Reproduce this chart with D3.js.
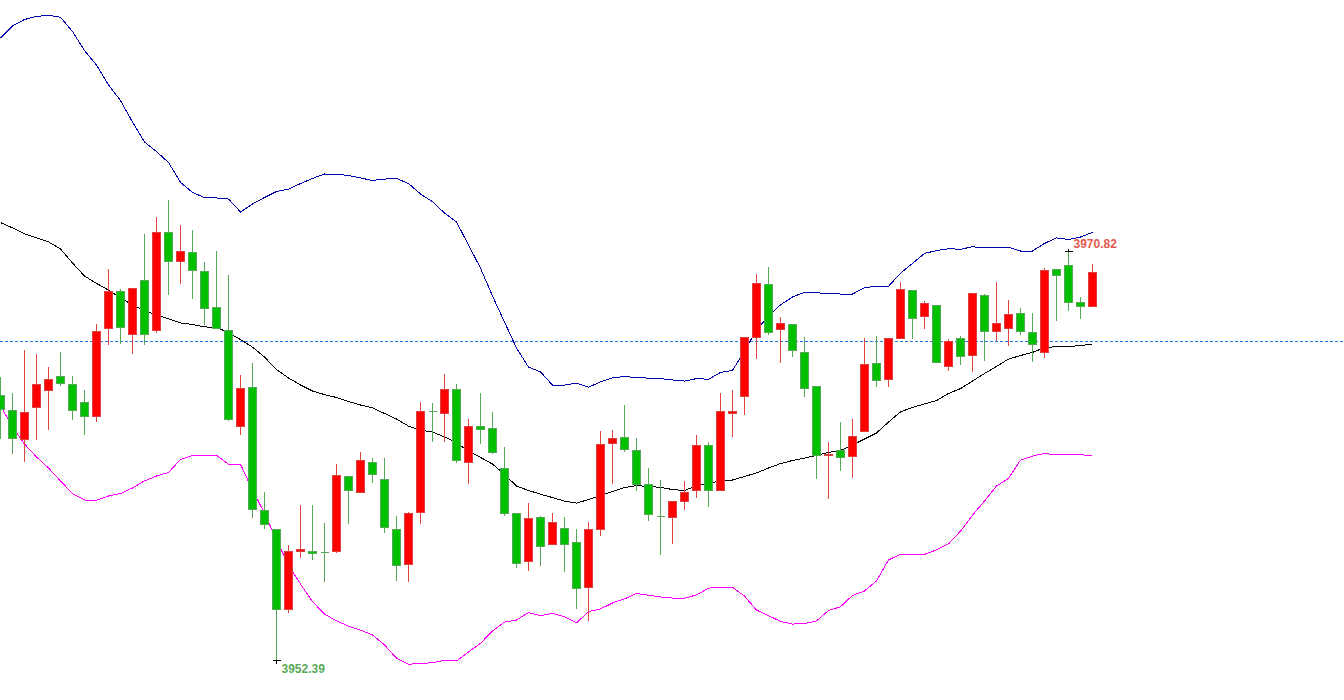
<!DOCTYPE html>
<html>
<head>
<meta charset="utf-8">
<script src="https://cdn.jsdelivr.net/npm/d3@7"></script>
<style>
  html, body { margin: 0; padding: 0; background: #fff; overflow: hidden; }
  #chart { width: 1344px; height: 700px; }
</style>
</head>
<body>
<div id="chart"></div>
<script>
// Candle data (oldest -> newest)
const open = [
  3964.33, 3963.66, 3962.35, 3963.79, 3964.56, 3965.19, 3964.83, 3964.02, 3963.39, 3967.35,
  3969.02, 3967.08, 3969.51, 3967.26, 3971.68, 3970.37, 3970.78, 3969.92, 3968.30, 3967.26,
  3962.93, 3964.69, 3959.15, 3958.29, 3954.69, 3957.30, 3957.30, 3957.26, 3957.30, 3960.68,
  3959.96, 3961.31, 3960.55, 3958.29, 3956.72, 3959.06, 3963.61, 3963.52, 3964.60, 3961.31,
  3962.93, 3962.84, 3961.04, 3959.01, 3956.85, 3958.83, 3957.62, 3958.34, 3957.71, 3955.68,
  3958.29, 3962.17, 3962.44, 3961.85, 3960.32, 3958.88, 3958.83, 3959.56, 3960.05, 3962.08,
  3960.05, 3963.52, 3964.29, 3966.94, 3969.33, 3967.31, 3967.53, 3966.27, 3964.74, 3961.63,
  3961.85, 3961.58, 3962.71, 3965.77, 3965.05, 3966.90, 3969.06, 3967.89, 3968.39, 3965.64,
  3966.90, 3966.13, 3968.84, 3967.21, 3967.35, 3968.03, 3967.17, 3966.27, 3970.01, 3970.19,
  3968.52, 3968.34
];
const high = [
  3965.19, 3964.47, 3966.40, 3966.22, 3965.64, 3966.31, 3965.23, 3964.60, 3967.58, 3970.05,
  3969.15, 3969.20, 3971.63, 3972.40, 3973.16, 3972.04, 3971.81, 3970.37, 3970.87, 3969.78,
  3965.28, 3965.82, 3960.01, 3958.34, 3957.62, 3959.42, 3959.42, 3958.61, 3961.27, 3960.73,
  3961.81, 3961.54, 3961.54, 3958.92, 3959.10, 3964.06, 3964.02, 3965.32, 3964.87, 3963.30,
  3964.47, 3963.61, 3962.03, 3959.06, 3959.51, 3958.92, 3959.06, 3958.88, 3958.34, 3958.65,
  3962.75, 3962.80, 3963.93, 3962.44, 3961.09, 3960.55, 3959.60, 3960.50, 3962.57, 3962.26,
  3964.47, 3964.60, 3966.99, 3969.83, 3970.14, 3967.89, 3967.58, 3966.99, 3964.78, 3962.26,
  3963.16, 3963.30, 3966.94, 3967.04, 3966.94, 3969.47, 3969.11, 3968.61, 3968.43, 3966.90,
  3967.04, 3968.97, 3968.93, 3969.47, 3968.66, 3968.30, 3968.07, 3970.10, 3970.05, 3970.82,
  3968.79, 3970.28
];
const low = [
  3962.39, 3961.72, 3961.36, 3962.35, 3962.80, 3964.78, 3963.25, 3962.57, 3963.16, 3966.63,
  3966.67, 3966.22, 3966.63, 3967.19, 3968.88, 3969.38, 3968.70, 3967.53, 3967.33, 3963.22,
  3962.57, 3958.83, 3958.34, 3952.39, 3954.55, 3957.03, 3956.94, 3955.95, 3957.27, 3958.56,
  3959.94, 3960.41, 3958.16, 3956.00, 3955.95, 3958.56, 3962.26, 3962.26, 3961.31, 3960.37,
  3962.17, 3961.74, 3958.92, 3956.58, 3956.45, 3956.67, 3957.60, 3956.40, 3954.73, 3954.19,
  3958.02, 3960.37, 3961.81, 3960.05, 3958.70, 3957.17, 3957.66, 3959.19, 3959.74, 3959.33,
  3960.03, 3962.48, 3963.47, 3966.00, 3967.08, 3965.82, 3966.09, 3964.29, 3960.59, 3959.69,
  3960.95, 3960.64, 3962.69, 3964.74, 3964.74, 3966.88, 3966.90, 3967.35, 3965.80, 3965.46,
  3965.73, 3965.41, 3965.91, 3966.81, 3966.58, 3967.08, 3965.86, 3966.04, 3967.71, 3968.16,
  3967.80, 3968.32
];
const close = [
  3963.70, 3962.39, 3963.57, 3964.83, 3965.05, 3964.87, 3963.66, 3963.39, 3967.21, 3969.02,
  3967.40, 3969.15, 3967.08, 3971.68, 3970.37, 3970.82, 3969.96, 3968.25, 3967.35, 3963.25,
  3964.65, 3959.19, 3958.52, 3954.69, 3957.30, 3957.39, 3957.21, 3957.26, 3960.73, 3960.05,
  3961.40, 3960.77, 3958.38, 3956.67, 3959.01, 3963.61, 3963.61, 3964.60, 3961.40, 3962.93,
  3962.80, 3961.76, 3959.01, 3956.76, 3958.79, 3957.53, 3958.61, 3957.62, 3955.63, 3958.29,
  3962.12, 3962.39, 3961.90, 3960.32, 3958.97, 3958.88, 3959.56, 3959.96, 3962.08, 3960.05,
  3963.61, 3963.61, 3966.94, 3969.38, 3967.17, 3967.58, 3966.36, 3964.65, 3961.63, 3961.67,
  3961.54, 3962.48, 3965.73, 3965.01, 3966.90, 3969.11, 3967.80, 3968.48, 3965.82, 3966.77,
  3966.09, 3968.93, 3967.21, 3967.58, 3967.98, 3967.21, 3966.63, 3969.96, 3969.74, 3968.52,
  3968.34, 3969.87
];

// Bollinger bands
const upper = [
  3980.42, 3980.96, 3981.25, 3981.39, 3981.44, 3981.35, 3980.71, 3979.85, 3979.20, 3978.30,
  3977.60, 3976.63, 3975.73, 3975.30, 3974.81, 3973.91, 3973.46, 3973.23, 3973.21, 3973.16,
  3972.58, 3972.94, 3973.23, 3973.50, 3973.61, 3973.86, 3974.09, 3974.29, 3974.28, 3974.22,
  3974.11, 3974.00, 3974.06, 3974.09, 3973.86, 3973.39, 3973.04, 3972.53, 3972.13, 3971.09,
  3970.05, 3968.79, 3967.62, 3966.45, 3965.59, 3965.37, 3964.78, 3964.78, 3964.86, 3964.68,
  3964.92, 3965.11, 3965.16, 3965.12, 3965.09, 3965.07, 3965.01, 3964.96, 3965.07, 3965.04,
  3965.35, 3965.44, 3966.31, 3967.26, 3967.89, 3968.39, 3968.75, 3968.96, 3968.93, 3968.92,
  3968.88, 3968.88, 3969.17, 3969.23, 3969.23, 3969.82, 3970.26, 3970.71, 3970.84, 3970.92,
  3970.90, 3971.01, 3970.96, 3970.97, 3970.99, 3970.82, 3970.82, 3971.16, 3971.41, 3971.34,
  3971.45, 3971.66
];
const middle = [
  3972.10, 3971.86, 3971.59, 3971.41, 3971.23, 3970.91, 3970.28, 3969.69, 3969.36, 3969.06,
  3968.70, 3968.39, 3968.12, 3967.94, 3967.76, 3967.58, 3967.51, 3967.40, 3967.38, 3967.14,
  3966.83, 3966.49, 3966.04, 3965.48, 3965.10, 3964.78, 3964.51, 3964.35, 3964.22, 3964.04,
  3963.88, 3963.75, 3963.50, 3963.25, 3962.93, 3962.75, 3962.66, 3962.44, 3962.19, 3961.79,
  3961.52, 3961.22, 3960.75, 3960.23, 3960.03, 3959.86, 3959.71, 3959.55, 3959.46, 3959.62,
  3959.80, 3959.98, 3960.16, 3960.25, 3960.21, 3960.17, 3960.07, 3960.03, 3960.23, 3960.35,
  3960.46, 3960.50, 3960.66, 3960.82, 3961.04, 3961.24, 3961.38, 3961.49, 3961.61, 3961.74,
  3961.83, 3962.08, 3962.35, 3962.62, 3963.11, 3963.57, 3963.77, 3963.93, 3964.08, 3964.40,
  3964.62, 3964.96, 3965.30, 3965.62, 3965.95, 3966.11, 3966.25, 3966.47, 3966.51, 3966.51,
  3966.56, 3966.63
];
const lower = [
  3963.84, 3962.89, 3962.12, 3961.54, 3961.04, 3960.46, 3959.89, 3959.60, 3959.59, 3959.78,
  3959.89, 3960.14, 3960.46, 3960.68, 3960.84, 3961.43, 3961.61, 3961.61, 3961.61, 3961.21,
  3961.21, 3960.05, 3959.01, 3957.80, 3956.67, 3955.81, 3955.02, 3954.46, 3954.15, 3953.92,
  3953.74, 3953.52, 3953.07, 3952.47, 3952.20, 3952.23, 3952.27, 3952.38, 3952.35, 3952.75,
  3953.14, 3953.70, 3954.10, 3954.19, 3954.53, 3954.39, 3954.49, 3954.34, 3954.06, 3954.57,
  3954.69, 3954.96, 3955.14, 3955.39, 3955.31, 3955.23, 3955.18, 3955.18, 3955.32, 3955.63,
  3955.66, 3955.67, 3955.27, 3954.64, 3954.39, 3954.13, 3954.01, 3954.03, 3954.15, 3954.62,
  3954.79, 3955.30, 3955.50, 3955.95, 3956.90, 3957.15, 3957.15, 3957.15, 3957.35, 3957.62,
  3958.20, 3958.92, 3959.55, 3960.23, 3960.57, 3961.40, 3961.58, 3961.70, 3961.63, 3961.63,
  3961.65, 3961.58
];

// Marked extremes and reference price line
const highMark = { index: 89, value: 3970.82 };
const lowMark = { index: 23, value: 3952.39 };
const priceLine = 3966.77;

const width = 1344, height = 700;
const n = close.length;

const svg = d3.select("#chart")
  .append("svg")
  .attr("width", width)
  .attr("height", height)
  .style("display", "block")
  .style("background", "#fff");

const x = d3.scaleLinear()
  .domain([0, n - 1])
  .range([0.5, 1092.5]);

const y = d3.scaleLinear()
  .domain([lowMark.value, highMark.value])
  .range([660, 251]);

const px = v => Math.round(y(v)) + 0.5;

// Dashed price line
svg.append("line")
  .attr("x1", 0)
  .attr("x2", width)
  .attr("y1", px(priceLine))
  .attr("y2", px(priceLine))
  .attr("stroke", "#1e78e6")
  .attr("stroke-width", 1)
  .attr("stroke-dasharray", "3,2")
  .attr("shape-rendering", "crispEdges");

// Bands
const bandLine = d3.line()
  .x((d, i) => x(i))
  .y(d => y(d));

[[upper, "#0000a8"], [middle, "#000000"], [lower, "#ff00ff"]].forEach(([vals, color]) => {
  svg.append("path")
    .datum(vals)
    .attr("fill", "none")
    .attr("stroke", color)
    .attr("stroke-width", 1)
    .attr("shape-rendering", "crispEdges")
    .attr("d", bandLine);
});

// Candles
const candles = d3.range(n).map(i => ({
  i, o: open[i], h: high[i], l: low[i], c: close[i]
}));

const up = d => d.c > d.o;
const wickColor = d => up(d) ? "#e0443c" : "#55a855";
const bodyTop = d => px(Math.max(d.o, d.c));
const bodyH = d => px(Math.min(d.o, d.c)) - bodyTop(d);

const g = svg.append("g").attr("shape-rendering", "crispEdges");

g.selectAll("line.wick")
  .data(candles)
  .join("line")
  .attr("class", "wick")
  .attr("x1", d => x(d.i))
  .attr("x2", d => x(d.i))
  .attr("y1", d => px(d.h))
  .attr("y2", d => px(d.l))
  .attr("stroke", wickColor)
  .attr("stroke-width", 1);

g.selectAll("rect.body")
  .data(candles.filter(d => bodyH(d) > 0))
  .join("rect")
  .attr("class", "body")
  .attr("x", d => x(d.i) - 4)
  .attr("y", bodyTop)
  .attr("width", 8)
  .attr("height", bodyH)
  .attr("fill", d => up(d) ? "#ff0000" : "#00c000")
  .attr("stroke", d => up(d) ? "#dc4040" : "#55a855")
  .attr("stroke-width", 1);

// Doji: open == close at pixel level
g.selectAll("line.doji")
  .data(candles.filter(d => bodyH(d) <= 0))
  .join("line")
  .attr("class", "doji")
  .attr("x1", d => x(d.i) - 4)
  .attr("x2", d => x(d.i) + 4)
  .attr("y1", bodyTop)
  .attr("y2", bodyTop)
  .attr("stroke", wickColor)
  .attr("stroke-width", 1);

// High / low markers
function mark(m, color, dir, dy) {
  const cx = x(m.index), cy = px(m.value);
  svg.append("path")
    .attr("d", `M${cx - 4},${cy}H${cx + 4}M${cx},${cy}V${cy + dir * 3}`)
    .attr("stroke", "#000")
    .attr("fill", "none")
    .attr("shape-rendering", "crispEdges");
  svg.append("text")
    .attr("x", cx + 5)
    .attr("y", cy + dy)
    .attr("fill", color)
    .attr("font-family", "Liberation Sans, Arial, sans-serif")
    .attr("font-size", "12px")
    .attr("font-weight", "bold")
    .text(d3.format(".2f")(m.value));
}
mark(highMark, "#e0584c", -1, -4);
mark(lowMark, "#5aaa5a", 1, 12);
</script>
</body>
</html>
